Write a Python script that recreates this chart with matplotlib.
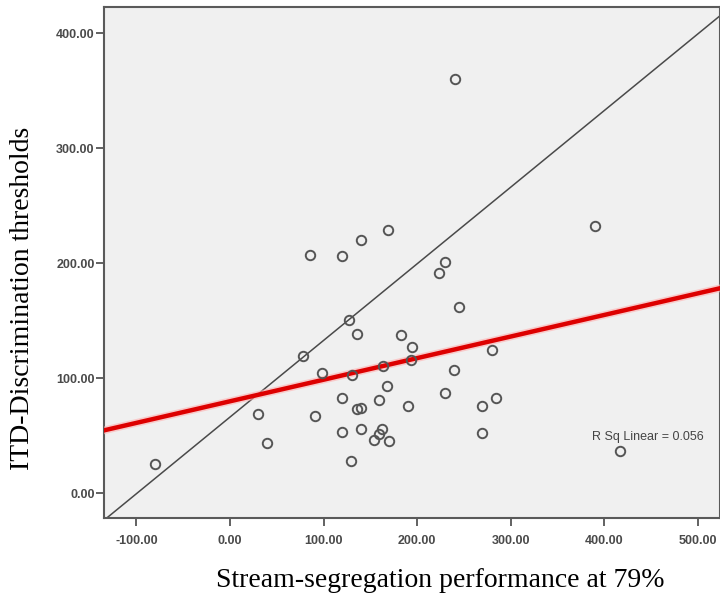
import matplotlib.pyplot as plt
import numpy as np

# stream-segregation performance at 79% (x) vs ITD thresholds (y)
seg = [-79.8, 29.9, 39.6, 77.8, 91.0, 85.2, 98.4, 120.0, 120.0, 120.0,
       126.8, 130.2, 129.7, 136.0, 135.5, 140.0, 140.0, 140.0, 159.6, 163.0,
       162.8, 159.5, 154.0, 167.9, 169.8, 168.9, 182.6, 194.8, 193.3, 190.0,
       223.7, 229.6, 229.6, 244.3, 239.4, 279.5, 269.7, 283.9, 269.7, 389.6,
       416.5, 240.0]
itd = [25.5, 69.0, 43.8, 119.4, 67.5, 207.5, 104.3, 205.8, 82.6, 53.3,
       150.7, 102.9, 27.8, 138.8, 72.8, 74.5, 220.3, 56.2, 80.6, 110.4,
       56.0, 51.3, 46.0, 92.8, 45.0, 229.0, 137.1, 126.7, 116.2, 75.4,
       191.3, 201.4, 86.7, 161.7, 107.0, 124.1, 75.7, 82.6, 52.2, 232.2,
       36.5, 360.3]

# reference diagonal drawn on the chart
ref_x = [-134, 525]
ref_y = [-23, 416]

r2_label = "R Sq Linear = 0.056"
xticks = [-100, 0, 100, 200, 300, 400, 500]
yticks = [0, 100, 200, 300, 400]

fig = plt.figure(figsize=(7.2, 5.97), dpi=100)
ax = fig.add_axes([0.145, 0.132, 0.855, 0.857])
ax.set_facecolor('#f0f0f0')

ax.plot(ref_x, ref_y, color='#4a4a4a', lw=1.1, zorder=2)

# least squares fit line
k, b = np.polyfit(seg, itd, 1)
fx = np.array([-140, 530])
ax.plot(fx, k * fx + b, color='#ffb0b0', lw=5.5, alpha=0.6, zorder=3, solid_capstyle='butt')
ax.plot(fx, k * fx + b, color='#dd0000', lw=3.2, zorder=3, solid_capstyle='butt')

ax.plot(seg, itd, 'o', mfc='none', mec='#555555', mew=1.4, ms=6.8, zorder=4)

ax.text(387, 49, r2_label, fontsize=9, color='#444444', va='center', ha='left',
        family='Liberation Sans')

ax.set_xlim(-134.3, 523.5)
ax.set_ylim(-21.7, 423)
ax.set_xticks(xticks)
ax.set_yticks(yticks)
ax.set_xticklabels([f"{v:.2f}" for v in xticks])
ax.set_yticklabels([f"{v:.2f}" for v in yticks])
ax.tick_params(direction='out', length=6, width=1.3, color='#555555',
               labelsize=9, labelcolor='#4a4a4a')
ax.tick_params(axis='x', pad=6)
ax.tick_params(axis='y', pad=1)
for lab in ax.get_xticklabels() + ax.get_yticklabels():
    lab.set_family('Liberation Sans')
    lab.set_fontweight('bold')
for s in ax.spines.values():
    s.set_color('#5a5a5a')
    s.set_linewidth(1.5)

ax.set_xlabel("Stream-segregation performance at 79%", family='Liberation Serif',
              fontsize=20)
ax.set_ylabel("ITD-Discrimination thresholds", family='Liberation Serif',
              fontsize=20)
ax.xaxis.set_label_coords(0.545, -0.098)
ax.yaxis.set_label_coords(-0.113, 0.429)

fig.savefig('out.png', dpi=100)
